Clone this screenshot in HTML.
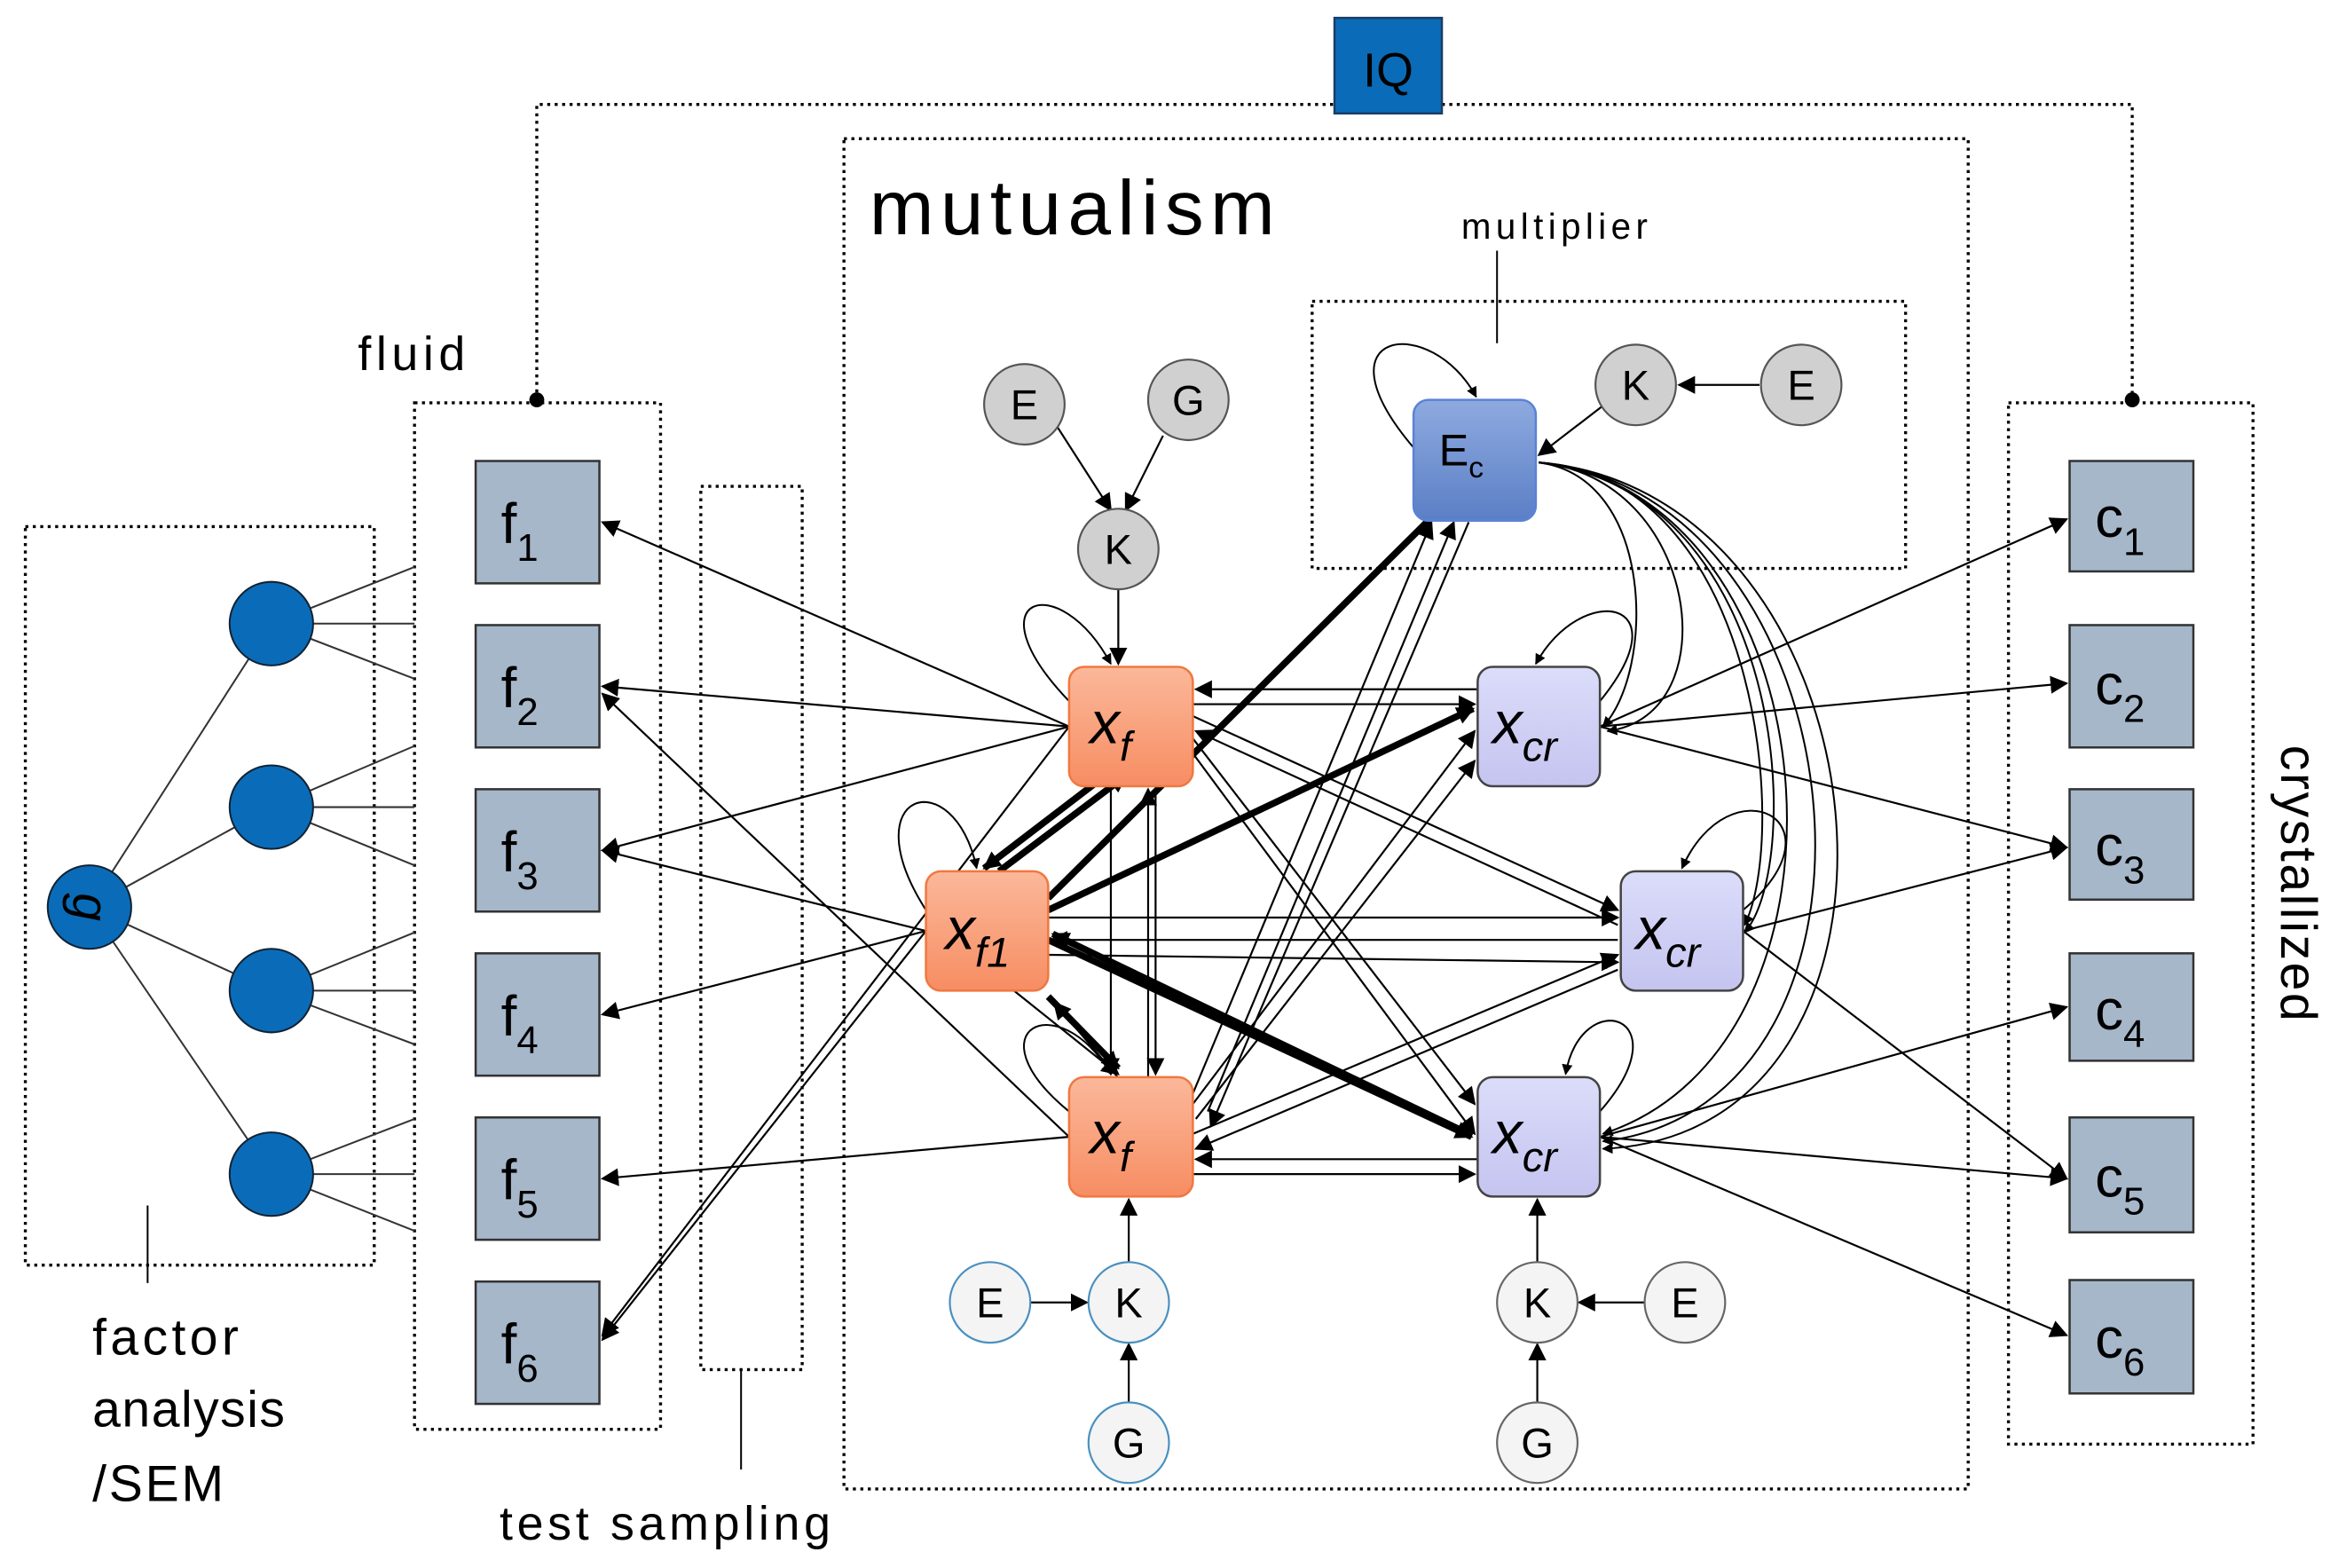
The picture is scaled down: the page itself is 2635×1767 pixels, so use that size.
<!DOCTYPE html>
<html><head><meta charset="utf-8"><style>
html,body{margin:0;padding:0;background:#fff}
svg{display:block}
text{font-family:"Liberation Sans",sans-serif}
</style></head><body>
<svg width="2635" height="1767" viewBox="0 0 1568 1051" preserveAspectRatio="none" xmlns="http://www.w3.org/2000/svg">
<defs>
<marker id="a" viewBox="0 0 10 10" refX="9" refY="5" markerWidth="12" markerHeight="12" markerUnits="userSpaceOnUse" orient="auto"><path d="M0,0L10,5L0,10z" fill="#000"/></marker>
<marker id="b" viewBox="0 0 10 10" refX="9" refY="5" markerWidth="6" markerHeight="6" orient="auto"><path d="M0,0L10,5L0,10z" fill="#000"/></marker>
<linearGradient id="og" x1="0" y1="0" x2="0" y2="1"><stop offset="0" stop-color="#fbb89a"/><stop offset="1" stop-color="#f78d63"/></linearGradient>
<linearGradient id="pg" x1="0" y1="0" x2="0" y2="1"><stop offset="0" stop-color="#dcdcfa"/><stop offset="1" stop-color="#c4c4f0"/></linearGradient>
<linearGradient id="bg" x1="0" y1="0" x2="0" y2="1"><stop offset="0" stop-color="#8eaadf"/><stop offset="1" stop-color="#5b7fc6"/></linearGradient>
</defs>
<g fill="none" stroke="#000" stroke-width="2" stroke-dasharray="2 3">
<rect x="17" y="353" width="234" height="495"/>
<rect x="278" y="270" width="165" height="688"/>
<rect x="470" y="326" width="68" height="592"/>
<rect x="566" y="93" width="754" height="905"/>
<rect x="880" y="202" width="398" height="179"/>
<rect x="1347" y="270" width="164" height="698"/>
<path d="M360,268V70H1430V268"/>
</g>
<circle cx="360" cy="268" r="5"/><circle cx="1430" cy="268" r="5"/>
<rect x="895" y="12" width="72" height="64" fill="#0a6cb8" stroke="#1a3d66" stroke-width="1.5"/>
<text x="931" y="58" font-size="32" text-anchor="middle">IQ</text>
<text x="240" y="248" font-size="32" textLength="72">fluid</text>
<text x="583" y="157" font-size="52" textLength="272">mutualism</text>
<text x="980" y="160" font-size="24" textLength="125">multiplier</text>
<line x1="1004" y1="168" x2="1004" y2="230" stroke="#000" stroke-width="1.2"/>
<text x="62" y="908" font-size="34" textLength="98">factor</text>
<text x="62" y="956" font-size="34" textLength="129">analysis</text>
<text x="62" y="1006" font-size="34" textLength="88">/SEM</text>
<line x1="99" y1="808" x2="99" y2="860" stroke="#000" stroke-width="1.2"/>
<text x="335" y="1032" font-size="32" textLength="222">test sampling</text>
<line x1="497" y1="918" x2="497" y2="985" stroke="#000" stroke-width="1.2"/>
<text transform="translate(1530,592) rotate(90)" font-size="34" text-anchor="middle" textLength="185">crystallized</text>
<g stroke="#333" stroke-width="1.2">
<line x1="60" y1="608" x2="182" y2="418"/><line x1="60" y1="608" x2="182" y2="541"/><line x1="60" y1="608" x2="182" y2="664"/><line x1="60" y1="608" x2="182" y2="787"/>
<line x1="182" y1="418" x2="278" y2="380"/><line x1="182" y1="418" x2="278" y2="418"/><line x1="182" y1="418" x2="278" y2="455"/>
<line x1="182" y1="541" x2="278" y2="500"/><line x1="182" y1="541" x2="278" y2="541"/><line x1="182" y1="541" x2="278" y2="580"/>
<line x1="182" y1="664" x2="278" y2="625"/><line x1="182" y1="664" x2="278" y2="664"/><line x1="182" y1="664" x2="278" y2="700"/>
<line x1="182" y1="787" x2="278" y2="750"/><line x1="182" y1="787" x2="278" y2="787"/><line x1="182" y1="787" x2="278" y2="825"/>
</g>
<g fill="#0a6cb8" stroke="#123" stroke-width="1.2">
<circle cx="60" cy="608" r="28"/><circle cx="182" cy="418" r="28"/><circle cx="182" cy="541" r="28"/><circle cx="182" cy="664" r="28"/><circle cx="182" cy="787" r="28"/>
</g>
<text transform="translate(60,608) rotate(90)" font-size="34" font-style="italic" text-anchor="middle" dy="11">g</text>
<g fill="#a6b7ca" stroke="#333" stroke-width="1.5">
<rect x="319" y="309" width="83" height="82"/><rect x="319" y="419" width="83" height="82"/><rect x="319" y="529" width="83" height="82"/><rect x="319" y="639" width="83" height="82"/><rect x="319" y="749" width="83" height="82"/><rect x="319" y="859" width="83" height="82"/>
<rect x="1388" y="309" width="83" height="74"/><rect x="1388" y="419" width="83" height="82"/><rect x="1388" y="529" width="83" height="74"/><rect x="1388" y="639" width="83" height="72"/><rect x="1388" y="749" width="83" height="77"/><rect x="1388" y="858" width="83" height="76"/>
</g>
<g font-size="38">
<text x="336" y="364">f<tspan font-size="26" dy="12">1</tspan></text>
<text x="336" y="474">f<tspan font-size="26" dy="12">2</tspan></text>
<text x="336" y="584">f<tspan font-size="26" dy="12">3</tspan></text>
<text x="336" y="694">f<tspan font-size="26" dy="12">4</tspan></text>
<text x="336" y="804">f<tspan font-size="26" dy="12">5</tspan></text>
<text x="336" y="914">f<tspan font-size="26" dy="12">6</tspan></text>
<text x="1405" y="360">c<tspan font-size="26" dy="12">1</tspan></text>
<text x="1405" y="472">c<tspan font-size="26" dy="12">2</tspan></text>
<text x="1405" y="580">c<tspan font-size="26" dy="12">3</tspan></text>
<text x="1405" y="690">c<tspan font-size="26" dy="12">4</tspan></text>
<text x="1405" y="802">c<tspan font-size="26" dy="12">5</tspan></text>
<text x="1405" y="910">c<tspan font-size="26" dy="12">6</tspan></text>
</g>
<g stroke="#000" stroke-width="1.3" fill="none" marker-end="url(#a)">
<line x1="717" y1="487" x2="404" y2="350"/><line x1="717" y1="487" x2="404" y2="460"/><line x1="717" y1="487" x2="404" y2="570"/>
<line x1="621" y1="624" x2="404" y2="570"/><line x1="621" y1="624" x2="404" y2="680"/><line x1="621" y1="624" x2="404" y2="898"/>
<line x1="717" y1="762" x2="404" y2="465"/><line x1="717" y1="762" x2="404" y2="790"/><line x1="717" y1="487" x2="404" y2="895"/>
<line x1="1073" y1="487" x2="1386" y2="348"/><line x1="1073" y1="487" x2="1386" y2="458"/><line x1="1073" y1="487" x2="1386" y2="568"/>
<line x1="1169" y1="624" x2="1386" y2="568"/><line x1="1169" y1="624" x2="1386" y2="790"/>
<line x1="1073" y1="762" x2="1386" y2="675"/><line x1="1073" y1="762" x2="1386" y2="790"/><line x1="1073" y1="762" x2="1386" y2="895"/>
<line x1="709" y1="286" x2="745" y2="342"/><line x1="780" y1="292" x2="755" y2="342"/><line x1="750" y1="395" x2="750" y2="445"/>
<line x1="1180" y1="258" x2="1126" y2="258"/><line x1="1075" y1="272" x2="1032" y2="305"/>
<line x1="691" y1="873" x2="729" y2="873"/><line x1="757" y1="940" x2="757" y2="901"/><line x1="757" y1="846" x2="757" y2="804"/>
<line x1="1103" y1="873" x2="1059" y2="873"/><line x1="1031" y1="940" x2="1031" y2="901"/><line x1="1031" y1="846" x2="1031" y2="804"/>
<line x1="991" y1="462" x2="802" y2="462"/><line x1="800" y1="472" x2="989" y2="472"/>
<line x1="991" y1="777" x2="802" y2="777"/><line x1="800" y1="787" x2="989" y2="787"/>
<line x1="800" y1="480" x2="1085" y2="610"/><line x1="1085" y1="620" x2="802" y2="490"/>
<line x1="800" y1="495" x2="989" y2="740"/><line x1="800" y1="505" x2="989" y2="760"/>
<line x1="800" y1="760" x2="1085" y2="640"/><line x1="1085" y1="650" x2="802" y2="770"/>
<line x1="802" y1="750" x2="989" y2="510"/><line x1="800" y1="740" x2="989" y2="490"/>
<line x1="703" y1="615" x2="1085" y2="615"/><line x1="1085" y1="630" x2="705" y2="630"/>
<line x1="703" y1="640" x2="1085" y2="645"/>
<line x1="745" y1="527" x2="745" y2="720"/><line x1="770" y1="722" x2="770" y2="529"/>
<line x1="800" y1="733" x2="960" y2="350"/><line x1="810" y1="745" x2="975" y2="350"/>
<line x1="985" y1="350" x2="812" y2="755"/>
<line x1="775" y1="530" x2="775" y2="720"/>
<line x1="765" y1="740" x2="707" y2="672"/>
<line x1="680" y1="664" x2="750" y2="720"/>
</g>
<g stroke="#000" stroke-width="1.2" fill="none" marker-end="url(#b)">
<path d="M1032,310 C1110,320 1110,450 1075,487"/>
<path d="M1032,310 C1140,320 1160,480 1078,490"/>
<path d="M1032,310 C1180,320 1200,560 1170,620"/>
<path d="M1032,310 C1200,330 1210,580 1170,625"/>
<path d="M1032,310 C1230,330 1260,700 1075,760"/>
<path d="M1032,310 C1250,330 1290,740 1075,765"/>
<path d="M1032,310 C1270,330 1310,760 1075,770"/>
<path d="M948,300 C880,220 960,210 990,266"/>
<path d="M717,470 C650,400 710,380 745,445"/>
<path d="M621,610 C570,530 640,510 655,582"/>
<path d="M717,745 C650,690 710,660 745,720"/>
<path d="M1073,470 C1130,400 1060,390 1030,445"/>
<path d="M1169,610 C1240,550 1160,510 1128,582"/>
<path d="M1073,745 C1130,680 1060,660 1050,720"/>
</g>
<g stroke="#000" stroke-width="4.5" fill="none" marker-end="url(#a)">
<line x1="670" y1="584" x2="755" y2="520"/><line x1="745" y1="517" x2="660" y2="582"/>
<line x1="703" y1="602" x2="975" y2="332"/>
<line x1="703" y1="610" x2="988" y2="475"/>
<line x1="703" y1="630" x2="987" y2="762"/><line x1="985" y1="760" x2="706" y2="626"/>
<line x1="703" y1="668" x2="750" y2="716"/>
</g>
<rect x="948" y="268" width="82" height="81" rx="10" fill="url(#bg)" stroke="#5b82d6" stroke-width="1.5"/>
<text x="965" y="312" font-size="30">E<tspan font-size="20" dy="8">c</tspan></text>
<g stroke="#f07840" stroke-width="1.5" fill="url(#og)">
<rect x="717" y="447" width="83" height="80" rx="10"/><rect x="621" y="584" width="82" height="80" rx="10"/><rect x="717" y="722" width="83" height="80" rx="10"/>
</g>
<g stroke="#444" stroke-width="1.5" fill="url(#pg)">
<rect x="991" y="447" width="82" height="80" rx="10"/><rect x="1087" y="584" width="82" height="80" rx="10"/><rect x="991" y="722" width="82" height="80" rx="10"/>
</g>
<g font-size="40" font-style="italic">
<text x="731" y="498">x<tspan font-size="28" dy="12">f</tspan></text>
<text x="634" y="636">x<tspan font-size="28" dy="12">f1</tspan></text>
<text x="731" y="773">x<tspan font-size="28" dy="12">f</tspan></text>
<text x="1001" y="498">x<tspan font-size="28" dy="12">cr</tspan></text>
<text x="1097" y="636">x<tspan font-size="28" dy="12">cr</tspan></text>
<text x="1001" y="773">x<tspan font-size="28" dy="12">cr</tspan></text>
</g>
<g fill="#d0d0d0" stroke="#555" stroke-width="1.3">
<circle cx="687" cy="271" r="27"/><circle cx="797" cy="268" r="27"/><circle cx="750" cy="368" r="27"/>
<circle cx="1097" cy="258" r="27"/><circle cx="1208" cy="258" r="27"/>
</g>
<g fill="#f4f4f4" stroke="#4a90c0" stroke-width="1.3">
<circle cx="664" cy="873" r="27"/><circle cx="757" cy="873" r="27"/><circle cx="757" cy="967" r="27"/>
</g>
<g fill="#f4f4f4" stroke="#666" stroke-width="1.3">
<circle cx="1031" cy="873" r="27"/><circle cx="1130" cy="873" r="27"/><circle cx="1031" cy="967" r="27"/>
</g>
<g font-size="28" text-anchor="middle">
<text x="687" y="281">E</text><text x="797" y="278">G</text><text x="750" y="378">K</text>
<text x="1097" y="268">K</text><text x="1208" y="268">E</text>
<text x="664" y="883">E</text><text x="757" y="883">K</text><text x="757" y="977">G</text>
<text x="1031" y="883">K</text><text x="1130" y="883">E</text><text x="1031" y="977">G</text>
</g>
</svg>
</body></html>
